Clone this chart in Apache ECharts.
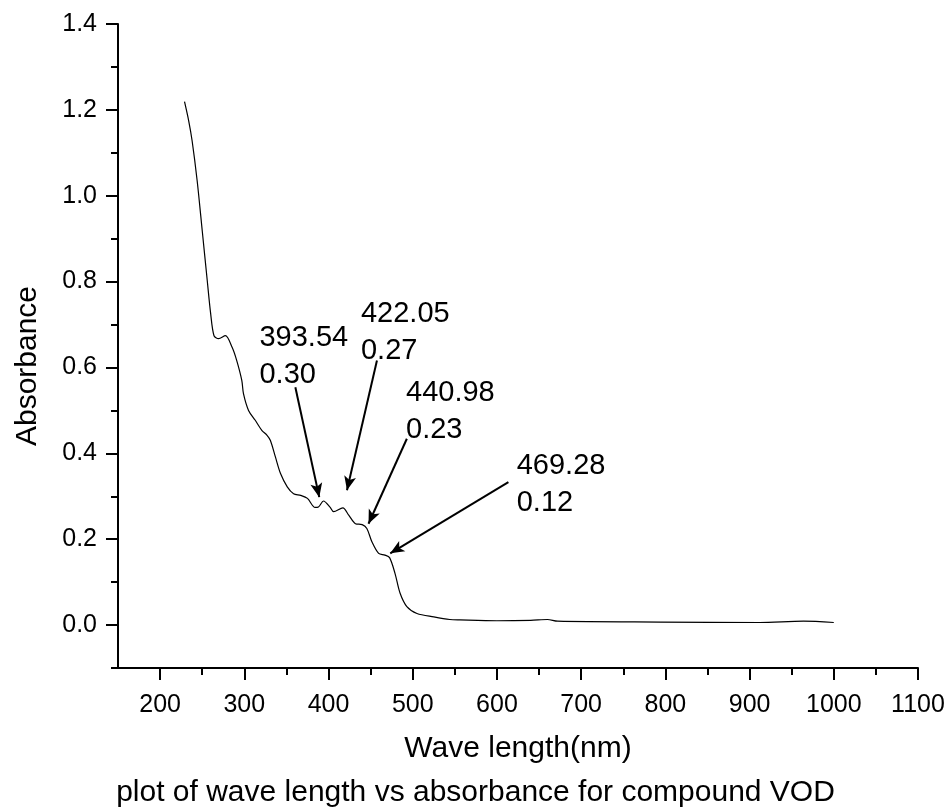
<!DOCTYPE html>
<html>
<head>
<meta charset="utf-8">
<script src="https://cdn.jsdelivr.net/npm/echarts@6/dist/echarts.min.js"></script>
<style>
  html, body { margin: 0; padding: 0; background: #fff; }
  #chart { width: 951px; height: 807px; }
</style>
</head>
<body>
<div id="chart"></div>
<script>
  // spectrum
  const wavelength = [229, 234, 238, 244, 250, 256, 260, 264, 269.5, 277.5, 285.5, 291, 297, 299, 305, 313, 321, 327, 331, 337, 343, 351, 358.5, 367, 375, 384, 388, 394, 402, 406, 417, 424, 432, 440, 445.5, 451.5, 459.5, 467, 472.5, 479, 485, 493, 505, 525, 544, 556, 600, 640, 660, 672, 794, 912, 964, 1000]
  const absorbance = [1.219, 1.174, 1.128, 1.035, 0.919, 0.802, 0.726, 0.674, 0.667, 0.674, 0.647, 0.616, 0.57, 0.539, 0.5, 0.477, 0.453, 0.442, 0.43, 0.391, 0.353, 0.322, 0.306, 0.302, 0.295, 0.274, 0.275, 0.289, 0.274, 0.264, 0.273, 0.256, 0.236, 0.234, 0.225, 0.194, 0.167, 0.163, 0.157, 0.12, 0.074, 0.043, 0.027, 0.019, 0.013, 0.012, 0.01, 0.011, 0.013, 0.009, 0.007, 0.006, 0.009, 0.006]

  // tick values
  const xMajor = [200, 300, 400, 500, 600, 700, 800, 900, 1000, 1100]
  const xMinor = [250, 350, 450, 550, 650, 750, 850, 950, 1050]
  const yMajor = [0, 0.2, 0.4, 0.6, 0.8, 1.0, 1.2, 1.4]
  const yMinor = [-0.1, 0.1, 0.3, 0.5, 0.7, 0.9, 1.1, 1.3]

  // peak annotations (data units)
  const peakText = ['393.54\n0.30', '422.05\n0.27', '440.98\n0.23', '469.28\n0.12']
  const textAt = [[318, 0.694], [438.5, 0.748], [492, 0.566], [623.5, 0.395]]
  const arrowFrom = [[360.6, 0.554], [457.5, 0.616], [493, 0.434], [613.6, 0.333]]
  const arrowTo = [[389, 0.298], [421.9, 0.314], [447.5, 0.236], [473.3, 0.167]]

  const FONT = 'Liberation Sans, Arial, sans-serif'
  const chart = echarts.init(document.getElementById('chart'))

  const baseAxis = {
    type: 'value',
    splitLine: { show: false },
    axisLine: { onZero: false, lineStyle: { color: '#000', width: 2 } },
  }

  chart.setOption({
    animation: false,
    backgroundColor: '#fff',
    title: {
      text: 'plot of wave length vs absorbance for compound VOD',
      left: 'center',
      top: 773,
      textStyle: { fontFamily: FONT, fontSize: 30, fontWeight: 'normal', color: '#000' },
    },
    grid: { left: 118, right: 33, top: 24, bottom: 139 },
    xAxis: [
      {
        ...baseAxis,
        min: 150,
        max: 1100,
        position: 'bottom',
        name: 'Wave length(nm)',
        nameLocation: 'middle',
        nameGap: 66,
        nameTextStyle: { fontFamily: FONT, fontSize: 30, color: '#000' },
        axisTick: { customValues: xMajor, length: 12, lineStyle: { color: '#000', width: 2 } },
        axisLabel: {
          customValues: xMajor,
          margin: 25,
          fontFamily: FONT,
          fontSize: 25,
          color: '#000',
          formatter: (v) => String(v),
        },
      },
      {
        ...baseAxis,
        min: 150,
        max: 1100,
        position: 'bottom',
        axisLine: { show: false, onZero: false },
        axisTick: { customValues: xMinor, length: 7, lineStyle: { color: '#000', width: 2 } },
        axisLabel: { show: false },
      },
    ],
    yAxis: [
      {
        ...baseAxis,
        min: -0.1,
        max: 1.4,
        position: 'left',
        name: 'Absorbance',
        nameLocation: 'middle',
        nameGap: 75,
        nameTextStyle: { fontFamily: FONT, fontSize: 30, color: '#000', padding: [0, 40, 0, 0] },
        axisTick: { customValues: yMajor, length: 12, lineStyle: { color: '#000', width: 2 } },
        axisLabel: {
          customValues: yMajor,
          margin: 21,
          fontFamily: FONT,
          fontSize: 25,
          color: '#000',
          formatter: (v) => v.toFixed(1),
        },
      },
      {
        ...baseAxis,
        min: -0.1,
        max: 1.4,
        position: 'left',
        axisLine: { show: false, onZero: false },
        axisTick: { customValues: yMinor, length: 7, lineStyle: { color: '#000', width: 2 } },
        axisLabel: { show: false },
      },
    ],
    series: [
      {
        type: 'line',
        data: wavelength.map((w, i) => [w, absorbance[i]]),
        showSymbol: false,
        smooth: 0.3,
        lineStyle: { color: '#000', width: 1.2 },
        silent: true,
        markLine: {
          silent: true,
          symbol: ['none', 'arrow'],
          symbolSize: [9, 14],
          label: { show: false },
          lineStyle: { color: '#000', width: 2, type: 'solid' },
          data: arrowFrom.map((p, i) => [{ coord: p }, { coord: arrowTo[i] }]),
        },
      },
      {
        type: 'scatter',
        data: textAt,
        symbolSize: 0,
        silent: true,
        itemStyle: { opacity: 1 },
        label: {
          show: true,
          position: [0, 0],
          offset: [0, -8],
          align: 'left',
          verticalAlign: 'top',
          fontFamily: FONT,
          fontSize: 29,
          lineHeight: 37,
          color: '#000',
          opacity: 1,
          formatter: (p) => peakText[p.dataIndex],
        },
      },
    ],
  })
</script>
</body>
</html>
